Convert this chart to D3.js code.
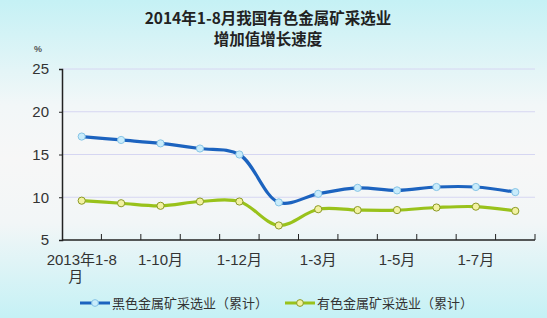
<!DOCTYPE html>
<html>
<head>
<meta charset="utf-8">
<script src="https://cdn.jsdelivr.net/npm/d3@7"></script>
<style>
	html, body { margin: 0; padding: 0; }
	svg { display: block; }
</style>
</head>
<body>
<svg id="chart"></svg>
<script>
const WIDTH = 547;
const HEIGHT = 318;

const months = [
	"2013年1-8月", "1-9月", "1-10月", "1-11月", "1-12月", "1-2月",
	"1-3月", "1-4月", "1-5月", "1-6月", "1-7月", "1-8月",
];
// only every other month gets a label on the axis
const shownLabels = ["2013年1-8月", "1-10月", "1-12月", "1-3月", "1-5月", "1-7月"];

const ferrous = [17.1, 16.7, 16.3, 15.7, 15.0, 9.4, 10.4, 11.1, 10.8, 11.2, 11.2, 10.6];
const nonFerrous = [9.6, 9.3, 9.0, 9.5, 9.5, 6.7, 8.6, 8.5, 8.5, 8.8, 8.9, 8.4];

const yTicks = [5, 10, 15, 20, 25];

const seriesNames = ["黑色金属矿采选业（累计）", "有色金属矿采选业（累计）"];
const titleLines = ["2014年1-8月我国有色金属矿采选业", "增加值增长速度"];

const FONT = "'Liberation Sans', Arial, 'Noto Sans CJK SC', sans-serif";
const CJK_FONT = "'Noto Sans CJK SC', sans-serif";

const svg = d3.select("#chart")
	.attr("width", WIDTH)
	.attr("height", HEIGHT);

// background gradient, cyan at top and bottom, almost white in the middle
const grad = svg.append("defs")
	.append("linearGradient")
	.attr("id", "bg")
	.attr("x1", 0).attr("y1", 0)
	.attr("x2", 0).attr("y2", 1);
grad.selectAll("stop")
	.data([
		[0, "#c5f1f5"],
		[0.33, "#f2f7f8"],
		[0.5, "#f7f7f7"],
		[0.7, "#f2f6f7"],
		[1, "#c5f1f5"],
	])
	.join("stop")
	.attr("offset", d => d[0])
	.attr("stop-color", d => d[1]);

svg.append("rect")
	.attr("width", WIDTH)
	.attr("height", HEIGHT)
	.attr("fill", "url(#bg)");

const x = d3.scaleBand(months, [62, 535]).padding(0);
const y = d3.scaleLinear([5, 25], [240, 69]);

// title
svg.append("g")
	.selectAll("text")
	.data(titleLines)
	.join("text")
	.attr("x", 268)
	.attr("y", (d, i) => 24 + i * 21)
	.attr("text-anchor", "middle")
	.attr("font-family", CJK_FONT)
	.attr("font-weight", "bold")
	.attr("font-size", 15.5)
	.attr("fill", "#222")
	.text(d => d);

svg.append("text")
	.attr("x", 38)
	.attr("y", 52)
	.attr("text-anchor", "middle")
	.attr("font-family", FONT)
	.attr("font-weight", "bold")
	.attr("font-size", 9)
	.attr("fill", "#555")
	.text("%");

// grid lines
svg.append("g")
	.selectAll("line")
	.data(yTicks.slice(1))
	.join("line")
	.attr("x1", x.range()[0])
	.attr("x2", x.range()[1])
	.attr("y1", d => y(d))
	.attr("y2", d => y(d))
	.attr("stroke", "#d6d6f2")
	.attr("stroke-width", 1);

// y axis
const yAxis = svg.append("g")
	.attr("transform", `translate(${x.range()[0]},0)`)
	.call(d3.axisLeft(y).tickValues(yTicks).tickSize(3).tickPadding(10));
yAxis.select(".domain").attr("stroke", "#222").attr("stroke-width", 1.5);
yAxis.selectAll(".tick line").attr("stroke", "#222");
yAxis.selectAll(".tick text")
	.attr("font-family", FONT)
	.attr("font-size", 15)
	.attr("fill", "#333");

// x axis: ticks between categories pointing up into the plot
const xAxisG = svg.append("g");
xAxisG.append("line")
	.attr("x1", x.range()[0])
	.attr("x2", x.range()[1])
	.attr("y1", y(5))
	.attr("y2", y(5))
	.attr("stroke", "#222")
	.attr("stroke-width", 1.5);
xAxisG.selectAll(".xtick")
	.data(months)
	.join("line")
	.attr("class", "xtick")
	.attr("x1", d => x(d) + x.bandwidth())
	.attr("x2", d => x(d) + x.bandwidth())
	.attr("y1", y(5))
	.attr("y2", y(5) - 6)
	.attr("stroke", "#222");

const labels = xAxisG.selectAll(".xlabel")
	.data(shownLabels)
	.join("text")
	.attr("class", "xlabel")
	.attr("x", d => x(d) + x.bandwidth() / 2)
	.attr("y", 265)
	.attr("text-anchor", "middle")
	.attr("font-family", FONT)
	.attr("font-size", 15)
	.attr("fill", "#333")
	.text(d => d);

// wrap labels longer than two bands, character by character
labels.each(function (d) {
	const text = d3.select(this);
	const maxWidth = x.bandwidth() * 2;
	if (this.getComputedTextLength() <= maxWidth) return;
	const cx = +text.attr("x");
	text.text(null);
	let line = "";
	let lines = [];
	const probe = text.append("tspan");
	for (const ch of d) {
		probe.text(line + ch);
		if (probe.node().getComputedTextLength() > maxWidth && line) {
			lines.push(line);
			line = ch;
		} else {
			line += ch;
		}
	}
	lines.push(line);
	probe.remove();
	lines.forEach((l, i) => {
		text.append("tspan")
			.attr("x", i === 0 ? cx : cx - 6)
			.attr("dy", i === 0 ? 0 : 17)
			.text(l);
	});
});

// series
const series = [
	{ name: seriesNames[0], values: ferrous, color: "#1c63bf", dotFill: "#c9ecfb", dotStroke: "#86c4e6" },
	{ name: seriesNames[1], values: nonFerrous, color: "#99c21b", dotFill: "#f2f2a2", dotStroke: "#8c9a25" },
];

const line = d3.line()
	.x((d, i) => x(months[i]) + x.bandwidth() / 2)
	.y(d => y(d))
	.curve(d3.curveCatmullRom.alpha(0.5));

const seriesG = svg.selectAll(".series")
	.data(series)
	.join("g")
	.attr("class", "series");

seriesG.append("path")
	.attr("d", d => line(d.values))
	.attr("fill", "none")
	.attr("stroke", d => d.color)
	.attr("stroke-width", 3.2)
	.attr("stroke-linejoin", "round");

seriesG.each(function (s) {
	d3.select(this)
		.selectAll("circle")
		.data(s.values)
		.join("circle")
		.attr("cx", (d, i) => x(months[i]) + x.bandwidth() / 2)
		.attr("cy", d => y(d))
		.attr("r", 3.6)
		.attr("fill", s.dotFill)
		.attr("stroke", s.dotStroke)
		.attr("stroke-width", 1);
});

// legend
const legendX = [80, 285];
const legend = svg.selectAll(".legend")
	.data(series)
	.join("g")
	.attr("class", "legend")
	.attr("transform", (d, i) => `translate(${legendX[i]},303)`);

legend.append("line")
	.attr("x1", 0)
	.attr("x2", 30)
	.attr("stroke", d => d.color)
	.attr("stroke-width", 3);
legend.append("circle")
	.attr("cx", 15)
	.attr("r", 3.4)
	.attr("fill", d => d.dotFill)
	.attr("stroke", d => d.dotStroke);
legend.append("text")
	.attr("x", 32)
	.attr("y", 5)
	.attr("font-family", CJK_FONT)
	.attr("font-size", 13)
	.attr("fill", "#333")
	.text(d => d.name);
</script>
</body>
</html>
